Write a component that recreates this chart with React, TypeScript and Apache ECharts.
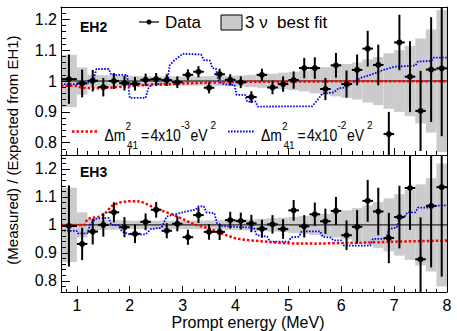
import React, { useEffect, useRef } from "react";
import * as echarts from "echarts";

// Bin edges (MeV)
const binEdges = [0.7, 1.0, 1.2, 1.4, 1.6, 1.8, 2.0, 2.2, 2.4, 2.6, 2.8, 3.0, 3.2, 3.4, 3.6, 3.8, 4.0, 4.2, 4.4, 4.6, 4.8, 5.0, 5.2, 5.4, 5.6, 5.8, 6.0, 6.2, 6.4, 6.6, 6.8, 7.0, 7.2, 7.4, 7.6, 7.8, 8.0];

// EH2 measured / expected
const eh2Ratio = [1.006, 0.992, 1.001, 0.98, 1.0, 0.993, 0.991, 1.004, 1.006, 1.003, 0.996, 1.02, 1.03, 0.978, 1.022, 1.004, 0.996, 0.948, 1.02, 0.979, 0.99, 1.003, 1.042, 1.042, 0.974, 1.051, 0.99, 1.036, 1.105, 1.052, 0.828, 1.125, 1.014, 0.903, 1.037, 1.041];
const eh2Err = [0.08, 0.045, 0.035, 0.03, 0.026, 0.024, 0.022, 0.02, 0.02, 0.019, 0.019, 0.018, 0.018, 0.018, 0.018, 0.018, 0.019, 0.019, 0.02, 0.022, 0.025, 0.028, 0.033, 0.035, 0.036, 0.04, 0.044, 0.05, 0.058, 0.066, 0.072, 0.09, 0.115, 0.13, 0.17, 0.22];
const eh2Band = [0.085, 0.044, 0.02, 0.019, 0.018, 0.017, 0.016, 0.016, 0.015, 0.015, 0.015, 0.015, 0.015, 0.016, 0.016, 0.017, 0.018, 0.02, 0.022, 0.024, 0.027, 0.03, 0.034, 0.04, 0.045, 0.05, 0.055, 0.06, 0.07, 0.078, 0.09, 0.1, 0.114, 0.138, 0.167, 0.23];

// EH3 measured / expected
const eh3Ratio = [0.996, 0.932, 0.976, 1.0, 1.045, 0.992, 0.968, 1.011, 1.054, 0.979, 1.004, 0.956, 1.035, 0.975, 0.975, 1.017, 1.014, 1.005, 0.986, 1.002, 0.985, 1.052, 0.995, 1.038, 1.013, 1.05, 0.963, 0.993, 1.086, 1.048, 0.953, 1.028, 1.132, 0.877, 1.068, 1.135];
const eh3Err = [0.145, 0.058, 0.046, 0.042, 0.036, 0.036, 0.033, 0.03, 0.028, 0.027, 0.027, 0.027, 0.028, 0.028, 0.029, 0.03, 0.03, 0.031, 0.032, 0.033, 0.035, 0.037, 0.04, 0.042, 0.045, 0.05, 0.053, 0.06, 0.075, 0.085, 0.09, 0.112, 0.15, 0.15, 0.22, 0.32];
const eh3Band = [0.133, 0.045, 0.02, 0.018, 0.017, 0.016, 0.015, 0.015, 0.015, 0.015, 0.015, 0.015, 0.016, 0.016, 0.017, 0.018, 0.019, 0.02, 0.022, 0.024, 0.026, 0.029, 0.032, 0.036, 0.04, 0.045, 0.052, 0.06, 0.07, 0.082, 0.095, 0.11, 0.125, 0.145, 0.167, 0.22];

// Sterile-neutrino predictions [E, ratio]
const eh2Dm3 = [[0.7, 0.985], [1.0, 0.984], [1.1, 0.978], [1.3, 0.976], [1.6, 0.978], [1.9, 0.982], [2.2, 0.986], [2.7, 0.989], [3.0, 0.992], [3.5, 0.995], [4.0, 0.997], [5.0, 0.998], [6.0, 0.999], [8.0, 0.999]];
const eh2Dm2 = [[0.7, 0.99], [1.0, 0.99], [1.05, 0.995], [1.3, 0.995], [1.37, 1.039], [1.6, 1.039], [1.65, 1.02], [1.95, 1.02], [2.0, 0.945], [2.3, 0.945], [2.35, 0.976], [2.42, 0.99], [2.7, 0.992], [2.76, 1.052], [2.85, 1.068], [3.0, 1.088], [3.35, 1.086], [3.4, 1.068], [3.52, 1.066], [3.56, 1.042], [3.63, 1.04], [3.68, 1.0], [3.75, 0.99], [3.98, 0.987], [4.02, 0.955], [4.18, 0.955], [4.22, 0.933], [4.38, 0.933], [4.42, 0.917], [5.45, 0.918], [5.55, 0.938], [5.65, 0.96], [5.85, 0.963], [5.95, 0.976], [6.1, 0.98], [6.2, 0.992], [6.35, 1.009], [6.55, 1.02], [6.8, 1.036], [7.0, 1.046], [7.4, 1.05], [7.45, 1.063], [7.7, 1.065], [7.75, 1.076], [8.0, 1.076]];
const eh3Dm3 = [[0.7, 1.0], [1.15, 1.0], [1.2, 1.022], [1.45, 1.03], [1.55, 1.044], [1.65, 1.066], [1.8, 1.08], [2.0, 1.085], [2.2, 1.084], [2.35, 1.072], [2.5, 1.058], [2.7, 1.045], [2.9, 1.03], [3.1, 1.012], [3.25, 1.0], [3.45, 0.99], [3.6, 0.98], [3.8, 0.965], [4.0, 0.952], [4.2, 0.946], [4.45, 0.942], [4.7, 0.938], [5.0, 0.934], [5.5, 0.933], [6.0, 0.935], [6.5, 0.937], [7.0, 0.94], [7.5, 0.942], [8.0, 0.944]];
const eh3Dm2 = [[0.7, 0.98], [1.0, 0.978], [1.02, 0.97], [1.2, 0.97], [1.25, 1.0], [1.35, 1.022], [1.6, 1.025], [1.65, 1.0], [1.8, 0.998], [1.85, 0.976], [2.0, 0.966], [2.3, 0.966], [2.4, 0.985], [2.6, 0.99], [2.7, 1.03], [3.0, 1.045], [3.25, 1.055], [3.3, 1.066], [3.4, 1.066], [3.45, 1.045], [3.6, 1.042], [3.65, 1.006], [3.75, 0.996], [4.0, 0.993], [4.35, 0.99], [4.4, 0.963], [4.6, 0.958], [4.65, 0.94], [5.0, 0.94], [5.05, 0.955], [5.2, 0.958], [5.25, 0.977], [5.6, 0.977], [5.65, 0.957], [5.8, 0.955], [5.85, 0.945], [6.0, 0.945], [6.05, 0.926], [6.55, 0.926], [6.6, 0.95], [6.85, 0.95], [6.9, 0.985], [7.05, 0.99], [7.1, 1.023], [7.2, 1.03], [7.25, 1.045], [7.4, 1.045], [7.45, 1.062], [7.7, 1.062], [7.75, 1.068], [8.0, 1.07]];

const unityLine = [[0.7, 1], [8.0, 1]];

// Axis ticks / labels
const xMajorTicks = [1, 2, 3, 4, 5, 6, 7, 8];
const xMinorTicks = [0.8, 1.2, 1.4, 1.6, 1.8, 2.2, 2.4, 2.6, 2.8, 3.2, 3.4, 3.6, 3.8, 4.2, 4.4, 4.6, 4.8, 5.2, 5.4, 5.6, 5.8, 6.2, 6.4, 6.6, 6.8, 7.2, 7.4, 7.6, 7.8];
const yMajorTicks = [0.8, 0.9, 1, 1.1, 1.2];
const yMinorTicksEH2 = [0.78, 0.82, 0.84, 0.86, 0.88, 0.92, 0.94, 0.96, 0.98, 1.02, 1.04, 1.06, 1.08, 1.12, 1.14, 1.16, 1.18, 1.22];
const yMinorTicksEH3 = [0.78, 0.82, 0.84, 0.86, 0.88, 0.92, 0.94, 0.96, 0.98, 1.02, 1.04, 1.06, 1.08, 1.12, 1.14, 1.16, 1.18, 1.22, 1.24];
const yRangeEH2 = [0.76, 1.24];
const yRangeEH3 = [0.76, 1.25];
const xRange = [0.7, 8.0];

const FONT = "'Liberation Sans', Arial, Helvetica, sans-serif";
const BAND = "#cbcbcb";
const RED = "#ff0000";
const BLUE = "#0000ff";

function bandRender(params: any, api: any) {
  const x0 = api.value(0), x1 = api.value(1), hw = api.value(2);
  const p0 = api.coord([x0, 1 + hw]);
  const p1 = api.coord([x1, 1 - hw]);
  const cs = params.coordSys;
  const rect = echarts.graphic.clipRectByRect(
    { x: p0[0], y: p0[1], width: p1[0] - p0[0], height: p1[1] - p0[1] },
    { x: cs.x, y: cs.y, width: cs.width, height: cs.height }
  );
  if (!rect) return null;
  return { type: "rect", shape: rect, style: { fill: BAND } };
}

function pointRender(params: any, api: any) {
  const x0 = api.value(0), x1 = api.value(1), v = api.value(2), e = api.value(3);
  const xc = (x0 + x1) / 2;
  const cs = params.coordSys;
  const c = api.coord([xc, v]);
  const t = api.coord([xc, v + e]);
  const b = api.coord([xc, v - e]);
  const l = api.coord([x0, v]);
  const r = api.coord([x1, v]);
  const yTop = Math.max(t[1], cs.y);
  const yBot = Math.min(b[1], cs.y + cs.height);
  const children: any[] = [];
  if (yBot > yTop) {
    children.push({ type: "line", shape: { x1: c[0], y1: yTop, x2: c[0], y2: yBot }, style: { stroke: "#000", lineWidth: 2 } });
  }
  if (c[1] >= cs.y && c[1] <= cs.y + cs.height) {
    children.push({ type: "line", shape: { x1: l[0], y1: c[1], x2: r[0], y2: c[1] }, style: { stroke: "#000", lineWidth: 2 } });
    children.push({ type: "circle", shape: { cx: c[0], cy: c[1], r: 3 }, style: { fill: "#000" } });
  }
  return { type: "group", children };
}

function xAxes(gridIndex: number, showLabels: boolean, majorLen: number, minorLen: number) {
  return [
    {
      type: "value", gridIndex, min: xRange[0], max: xRange[1], position: "bottom", z: 10,
      axisLine: { show: true, lineStyle: { color: "#000", width: 1 } },
      axisTick: { show: true, inside: true, length: majorLen, customValues: xMajorTicks, lineStyle: { color: "#000" } },
      axisLabel: showLabels
        ? { show: true, customValues: xMajorTicks, fontSize: 16, color: "#000", fontFamily: FONT, margin: 5 }
        : { show: false },
      splitLine: { show: false },
    },
    {
      type: "value", gridIndex, min: xRange[0], max: xRange[1], position: "bottom", z: 10,
      axisLine: { show: false },
      axisTick: { show: true, inside: true, length: minorLen, customValues: xMinorTicks, lineStyle: { color: "#000" } },
      axisLabel: { show: false },
      splitLine: { show: false },
    },
    {
      type: "value", gridIndex, min: xRange[0], max: xRange[1], position: "top", z: 10,
      axisLine: { show: true, lineStyle: { color: "#000", width: 1 } },
      axisTick: { show: false }, axisLabel: { show: false }, splitLine: { show: false },
    },
  ];
}

function yAxes(gridIndex: number, range: number[], minor: number[]) {
  return [
    {
      type: "value", gridIndex, min: range[0], max: range[1], position: "left", z: 10,
      axisLine: { show: true, lineStyle: { color: "#000", width: 1 } },
      axisTick: { show: true, inside: true, length: 9, customValues: yMajorTicks, lineStyle: { color: "#000" } },
      axisLabel: { show: true, customValues: yMajorTicks, fontSize: 16, color: "#000", fontFamily: FONT, margin: 4 },
      splitLine: { show: false },
    },
    {
      type: "value", gridIndex, min: range[0], max: range[1], position: "left", z: 10,
      axisLine: { show: false },
      axisTick: { show: true, inside: true, length: 5, customValues: minor, lineStyle: { color: "#000" } },
      axisLabel: { show: false }, splitLine: { show: false },
    },
    {
      type: "value", gridIndex, min: range[0], max: range[1], position: "right", z: 10,
      axisLine: { show: true, lineStyle: { color: "#000", width: 1 } },
      axisTick: { show: false }, axisLabel: { show: false }, splitLine: { show: false },
    },
  ];
}

function panelSeries(xi: number, yi: number, ratio: number[], err: number[], band: number[], dm3: number[][], dm2: number[][]) {
  return [
    {
      type: "custom", xAxisIndex: xi, yAxisIndex: yi, silent: true, clip: true,
      renderItem: bandRender,
      data: band.map((hw, i) => [binEdges[i], binEdges[i + 1], hw]),
      z: 1,
    },
    {
      type: "line", xAxisIndex: xi, yAxisIndex: yi, silent: true, symbol: "none",
      data: unityLine, lineStyle: { color: "#000", width: 1 }, z: 2,
    },
    {
      type: "line", xAxisIndex: xi, yAxisIndex: yi, silent: true, symbol: "none",
      data: dm2, lineStyle: { color: BLUE, width: 1.8, type: [1.6, 1.4] }, z: 3,
    },
    {
      type: "line", xAxisIndex: xi, yAxisIndex: yi, silent: true, symbol: "none",
      data: dm3, lineStyle: { color: RED, width: 2.5, type: [2.5, 2] }, z: 4,
    },
    {
      type: "custom", xAxisIndex: xi, yAxisIndex: yi, silent: true, clip: true,
      renderItem: pointRender,
      data: ratio.map((v, i) => [binEdges[i], binEdges[i + 1], v, err[i]]),
      z: 5,
    },
  ];
}

function dmLabel(ox: number, exp: string) {
  const base = { fontFamily: FONT, fill: "#000", verticalAlign: "middle" };
  const big = { scaleY: 1.2 };
  return [
    { type: "text", x: ox, y: 135, ...big, style: { ...base, text: "Δm", fontSize: 14 } },
    { type: "text", x: ox + 21, y: 126.5, style: { ...base, text: "2", fontSize: 10 } },
    { type: "text", x: ox + 22.5, y: 145.5, style: { ...base, text: "41", fontSize: 10 } },
    { type: "text", x: ox + 36.5, y: 135, ...big, style: { ...base, text: "=", fontSize: 14 } },
    { type: "text", x: ox + 46, y: 135, ...big, style: { ...base, text: "4x10", fontSize: 14 } },
    { type: "text", x: ox + 76.5, y: 125.5, style: { ...base, text: exp, fontSize: 10 } },
    { type: "text", x: ox + 86, y: 135, ...big, style: { ...base, text: "eV", fontSize: 14 } },
    { type: "text", x: ox + 106, y: 125.5, style: { ...base, text: "2", fontSize: 10 } },
  ].map((el) => ({ ...el, z: 20 }));
}

export default function App() {
  const ref = useRef<HTMLDivElement>(null);
  useEffect(() => {
    if (!ref.current) return;
    const chart = echarts.init(ref.current, undefined, { renderer: "svg" });
    const option: any = {
      animation: false,
      backgroundColor: "#fff",
      grid: [
        { left: 61, right: 10, top: 7, height: 148 },
        { left: 61, right: 10, top: 155, height: 137 },
      ],
      xAxis: [...xAxes(0, false, 7, 4), ...xAxes(1, true, 6, 3)],
      yAxis: [...yAxes(0, yRangeEH2, yMinorTicksEH2), ...yAxes(1, yRangeEH3, yMinorTicksEH3)],
      series: [
        ...panelSeries(0, 0, eh2Ratio, eh2Err, eh2Band, eh2Dm3, eh2Dm2),
        ...panelSeries(3, 3, eh3Ratio, eh3Err, eh3Band, eh3Dm3, eh3Dm2),
      ],
      graphic: [
        { type: "text", x: 80, y: 26.5, z: 20, style: { text: "EH2", fontFamily: FONT, fontWeight: "bold", fontSize: 14, fill: "#000", verticalAlign: "middle" } },
        { type: "text", x: 80, y: 172, z: 20, style: { text: "EH3", fontFamily: FONT, fontWeight: "bold", fontSize: 14, fill: "#000", verticalAlign: "middle" } },
        // Legend: Data
        { type: "line", z: 20, shape: { x1: 139, y1: 22, x2: 159, y2: 22 }, style: { stroke: "#000", lineWidth: 1.2 } },
        { type: "circle", z: 20, shape: { cx: 149, cy: 22, r: 2.5 }, style: { fill: "#000" } },
        { type: "text", x: 165, y: 22, z: 20, style: { text: "Data", fontFamily: FONT, fontSize: 17, fill: "#000", verticalAlign: "middle" } },
        // Legend: band
        { type: "rect", z: 20, shape: { x: 221, y: 15, width: 21, height: 15 }, style: { fill: BAND, stroke: "#000", lineWidth: 1 } },
        { type: "text", x: 245, y: 22, z: 20, style: { text: "3 ν  best fit", fontFamily: FONT, fontSize: 17, fill: "#000", verticalAlign: "middle" } },
        // Legend: sterile curves
        { type: "line", z: 20, shape: { x1: 72, y1: 131.5, x2: 99, y2: 131.5 }, style: { stroke: RED, lineWidth: 2.5, lineDash: [2.5, 2] } },
        ...dmLabel(104.5, "-3"),
        { type: "line", z: 20, shape: { x1: 228, y1: 131.5, x2: 255, y2: 131.5 }, style: { stroke: BLUE, lineWidth: 1.8, lineDash: [1.6, 1.4] } },
        ...dmLabel(261, "-2"),
        // Axis titles
        { type: "text", x: 248, y: 322, z: 20, style: { text: "Prompt energy (MeV)", fontFamily: FONT, fontSize: 16, fill: "#000", align: "center", verticalAlign: "middle" } },
        { type: "text", x: 12.5, y: 150, rotation: Math.PI / 2, z: 20, style: { text: "(Measured) / (Expected from EH1)", fontFamily: FONT, fontSize: 15, fill: "#000", align: "center", verticalAlign: "middle" } },
      ],
    };
    chart.setOption(option);
    return () => chart.dispose();
  }, []);
  return <div ref={ref} style={{ position: "absolute", left: 0, top: 0, width: 457, height: 331, background: "#fff" }} />;
}
